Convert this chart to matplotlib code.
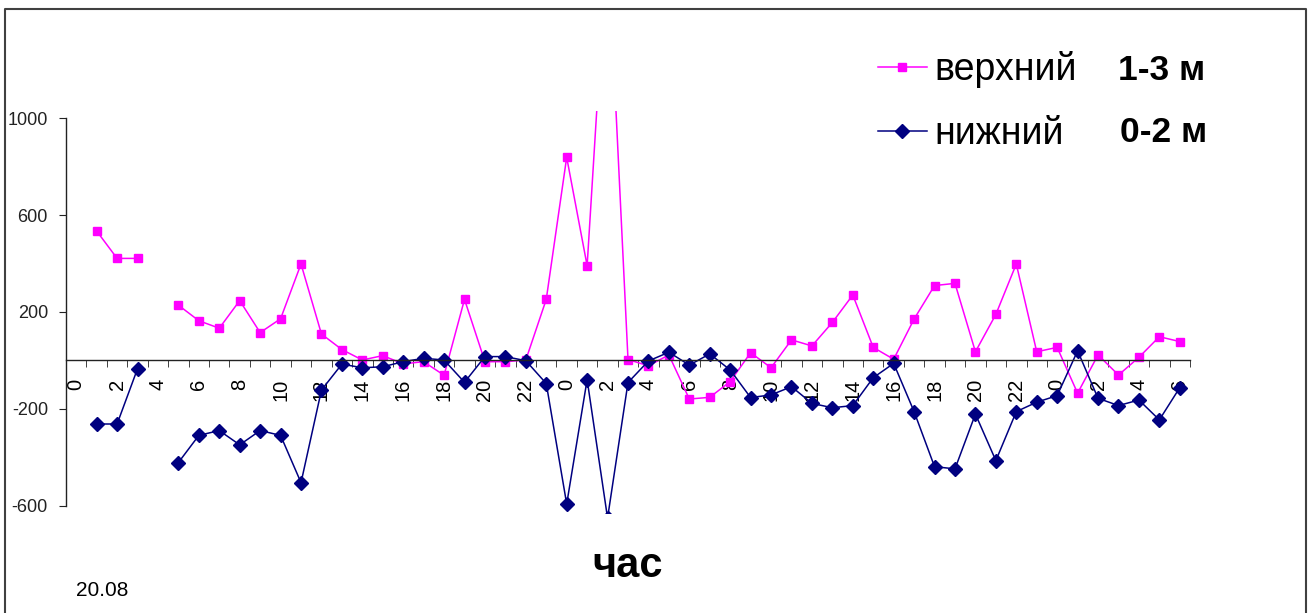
import numpy as np
import matplotlib.pyplot as plt
from matplotlib.lines import Line2D

plt.rcParams["font.family"] = ["Liberation Sans", "DejaVu Sans"]

# подписи часов по оси X (20.08 - 22.08)
hours = list(range(24)) + list(range(24)) + list(range(7))

nan = np.nan
upper = [nan, 534, 421, 421, nan, 228, 164, 133, 247, 115, 172, 398, 109, 45,
         2, 20, -14, -5, -61, 252, -5, -5, 2, 252, 838, 391, 1750, 4, -22, 23,
         -159, -152, -87, 32, -30, 85, 60, 157, 270, 54, 5, 171, 309, 318, 36,
         190, 398, 36, 54, -135, 23, -60, 13, 98, 78]
lower = [nan, -262, -262, -34, nan, -421, -309, -289, -348, -289, -309, -504,
         -122, -15, -30, -26, -5, 9, 2, -90, 16, 16, -1, -95, -592, -79, -650,
         -91, -2, 34, -19, 27, -39, -153, -142, -108, -177, -195, -186, -71,
         -12, -211, -438, -447, -221, -413, -211, -172, -145, 40, -156, -186,
         -163, -245, -112]
yticks = [-600, -200, 200, 600, 1000]

fig = plt.figure(figsize=(13.09, 6.13), dpi=100)
ax = fig.add_axes([66/1309, 1 - 512.5/613, 1124/1309, 402/613])

x = np.arange(len(hours))
l1, = ax.plot(x, upper, color="#FF00FF", lw=1.1, marker="s", ms=5.5,
              label="верхний")
l2, = ax.plot(x, lower, color="#000080", lw=1.1, marker="D", ms=7.5,
              label="нижний")

ax.set_xlim(-0.5, len(hours) - 0.5)
ax.set_ylim(-627, 1031)

ax.spines["top"].set_visible(False)
ax.spines["right"].set_visible(False)
ax.spines["left"].set_bounds(-600, 1000)
ax.spines["bottom"].set_position(("data", 0))
for s in ("left", "bottom"):
    ax.spines[s].set_color("#222222")
    ax.spines[s].set_linewidth(1.0)

ax.set_yticks(yticks)
ax.set_yticklabels([str(v) for v in yticks], fontsize=13)
ax.tick_params(axis="y", direction="out", length=5, pad=8, colors="#222222")

ax.set_xticks(x[::2])
ax.set_xticklabels([str(h) for h in hours[::2]], rotation=90,
                   fontsize=14.5, va="top", ha="center")
ax.set_xticks(np.arange(len(hours) + 1) - 0.5, minor=True)
ax.tick_params(axis="x", which="major", length=0, pad=13)
ax.tick_params(axis="x", which="minor", direction="out", length=5,
               color="#222222")

leg = fig.legend(handles=[l1, l2], loc="upper left",
                 bbox_to_anchor=(878/1309, 1 - 51/613), frameon=False,
                 prop={"size": 27}, handlelength=1.3, borderaxespad=0,
                 handletextpad=0.2, labelspacing=0.75, borderpad=0)

fig.text(1118/1309, 1 - 70/613, "1-3 м", fontsize=25.5, fontweight="bold",
         va="center", ha="left")
fig.text(1120/1309, 1 - 133/613, "0-2 м", fontsize=25.5, fontweight="bold",
         va="center", ha="left")
fig.text(628/1309, 1 - 566/613, "час", fontsize=30, fontweight="bold",
         va="center", ha="center")
fig.text(102/1309, 1 - 590/613, "20.08", fontsize=15, va="center",
         ha="center")

# рамка диаграммы
fx = [5/1309, 5/1309, 1306/1309, 1306/1309]
fy = [0, 1 - 9/613, 1 - 9/613, 0]
fig.add_artist(Line2D(fx, fy, transform=fig.transFigure, color="#404040",
                      lw=1.5))

fig.savefig("out.png", dpi=100, facecolor="white")
